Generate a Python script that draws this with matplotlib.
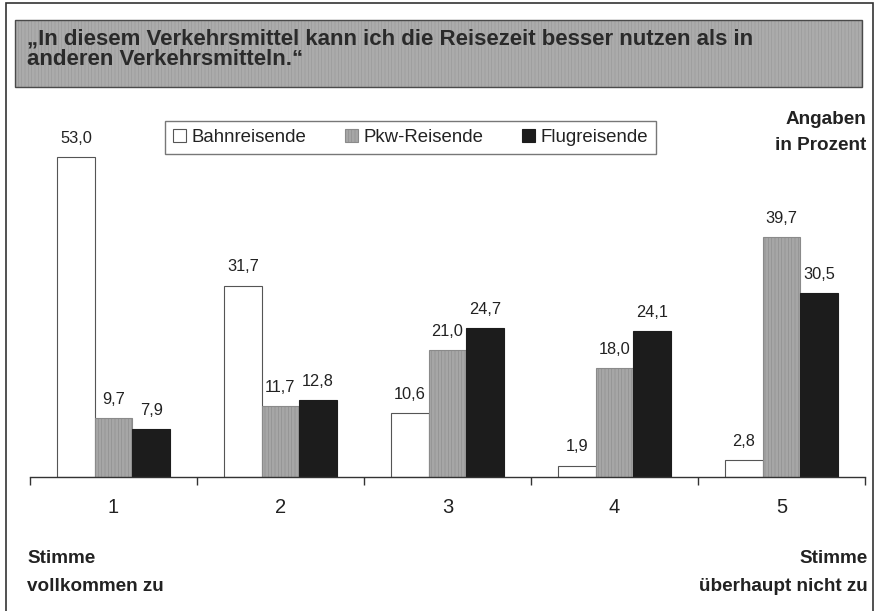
import numpy as np
import matplotlib
matplotlib.use("Agg")
import matplotlib.pyplot as plt
from matplotlib.patches import Rectangle, Patch

plt.rcParams['font.family'] = ['Liberation Sans', 'DejaVu Sans']
plt.rcParams['hatch.linewidth'] = 0.4

# data
categories = ["1", "2", "3", "4", "5"]
series_names = ["Bahnreisende", "Pkw-Reisende", "Flugreisende"]
bahn = [53.0, 31.7, 10.6, 1.9, 2.8]
pkw = [9.7, 11.7, 21.0, 18.0, 39.7]
flug = [7.9, 12.8, 24.7, 24.1, 30.5]
title_lines = ["\u201eIn diesem Verkehrsmittel kann ich die Reisezeit besser nutzen als in",
               "anderen Verkehrsmitteln.\u201c"]

W, H = 876, 611
fig = plt.figure(figsize=(W / 100, H / 100), dpi=100)

def fx(px):
    return px / W

def fy(py):
    return 1 - py / H

txt = "#222222"

# outer frame
fig.patches.append(Rectangle((fx(6), fy(640)), fx(867), 640 / H - 3 / H,
                             transform=fig.transFigure, fill=False,
                             edgecolor="#333333", linewidth=1.2))
# title box: textured fill, then outline
fig.patches.append(Rectangle((fx(15), fy(87)), fx(847), 67 / H,
                             transform=fig.transFigure, facecolor="#ababab",
                             edgecolor="#979797", linewidth=0, hatch="|||||"))
fig.patches.append(Rectangle((fx(15), fy(87)), fx(847), 67 / H,
                             transform=fig.transFigure, fill=False,
                             edgecolor="#4a4a4a", linewidth=1.0))
fig.text(fx(27), fy(45), title_lines[0], fontsize=16, fontweight="bold",
         color="#2a2a2a", va="baseline", ha="left")
fig.text(fx(27), fy(65), title_lines[1], fontsize=16, fontweight="bold",
         color="#2a2a2a", va="baseline", ha="left")

# axes
ax = fig.add_axes([fx(30), (H - 477) / H, fx(835), 60 * 6.04 / H])
x = np.arange(len(categories))
w = 0.225
styles = [dict(color="white", edgecolor="#555555"),
          dict(color="#a6a6a6", edgecolor="#8a8a8a", hatch="|||||"),
          dict(color="#1c1c1c", edgecolor="#1c1c1c")]
for i, vals in enumerate([bahn, pkw, flug]):
    bars = ax.bar(x + (i - 1) * w, vals, w, linewidth=0.8, **styles[i])
    ax.bar_label(bars, labels=[f"{v:.1f}".replace(".", ",") for v in vals],
                 padding=8, fontsize=11.8, color=txt)

ax.set_xlim(-0.5, 4.5)
ax.set_ylim(0, 60)
for s in ["left", "right", "top"]:
    ax.spines[s].set_visible(False)
ax.spines["bottom"].set_color("#333333")
ax.spines["bottom"].set_linewidth(1.0)
ax.set_yticks([])
ax.set_xticks(x)
ax.set_xticklabels(categories, fontsize=14.5, color=txt)
ax.tick_params(axis="x", which="major", length=0, pad=15)
ax.set_xticks(np.arange(-0.5, 5, 1), minor=True)
ax.tick_params(axis="x", which="minor", length=6, width=1.0, color="#333333",
               direction="out")

# legend
handles = [Patch(facecolor=styles[i]["color"], edgecolor=styles[i]["edgecolor"],
                 hatch=styles[i].get("hatch"), linewidth=0.8, label=series_names[i])
           for i in range(3)]
leg = fig.legend(handles=handles, loc="center", ncol=3,
                 bbox_to_anchor=(fx(410.5), fy(137.5)), fontsize=13.4,
                 frameon=True, fancybox=False, handlelength=0.7, handleheight=0.7,
                 handletextpad=0.3, columnspacing=2.05, borderpad=0.45)
leg.get_frame().set_edgecolor("#555555")
leg.get_frame().set_linewidth(1.0)
for t in leg.get_texts():
    t.set_color(txt)

# side notes
fig.text(fx(866), fy(124), "Angaben", fontsize=13.6, fontweight="bold",
         color=txt, ha="right", va="baseline")
fig.text(fx(866), fy(150), "in Prozent", fontsize=13.6, fontweight="bold",
         color=txt, ha="right", va="baseline")
fig.text(fx(27), fy(563), "Stimme", fontsize=13.6, fontweight="bold",
         color=txt, ha="left", va="baseline")
fig.text(fx(27), fy(591), "vollkommen zu", fontsize=13.6, fontweight="bold",
         color=txt, ha="left", va="baseline")
fig.text(fx(868), fy(563), "Stimme", fontsize=13.6, fontweight="bold",
         color=txt, ha="right", va="baseline")
fig.text(fx(868), fy(591), "\u00fcberhaupt nicht zu", fontsize=13.6,
         fontweight="bold", color=txt, ha="right", va="baseline")

fig.savefig("out.png", dpi=100)
